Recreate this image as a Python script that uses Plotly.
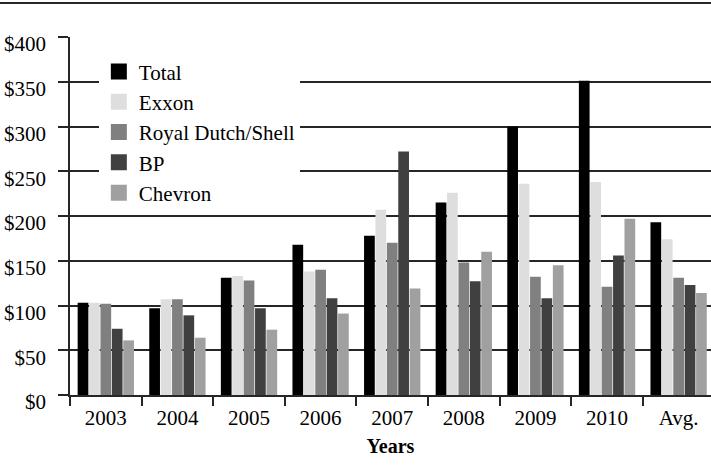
import plotly.graph_objects as go

# Annual figures by company, in dollars
years = ["2003", "2004", "2005", "2006", "2007", "2008", "2009", "2010", "Avg."]
total = [103, 97, 131, 168, 178, 215, 300, 351, 193]
exxon = [103, 107, 133, 138, 207, 226, 236, 238, 174]
shell = [102, 107, 128, 140, 170, 148, 132, 121, 131]
bp = [74, 89, 97, 108, 272, 127, 108, 156, 123]
chevron = [61, 64, 73, 91, 119, 160, 145, 197, 114]

y_ticks = [0, 50, 100, 150, 200, 250, 300, 350, 400]
y_tick_text = ["$" + str(v) for v in y_ticks]

series = [
    ("Total", total, "#000000"),
    ("Exxon", exxon, "#dedede"),
    ("Royal Dutch/Shell", shell, "#808080"),
    ("BP", bp, "#404040"),
    ("Chevron", chevron, "#a0a0a0"),
]

FONT = "Liberation Serif"
LINE = "#262626"

fig = go.Figure()
for name, vals, color in series:
    fig.add_trace(go.Bar(x=years, y=vals, name=name, marker_color=color,
                         marker_line_width=0, showlegend=False))
# Square swatches for the legend
for name, vals, color in series:
    fig.add_trace(go.Scatter(x=[None], y=[None], mode="markers", name=name,
                             marker=dict(symbol="square", size=16, color=color)))

fig.update_layout(
    width=711, height=467,
    margin=dict(l=70, r=0, t=37, b=72),
    paper_bgcolor="white", plot_bgcolor="white",
    barmode="group", bargap=0.204, bargroupgap=0.06,
    font=dict(family=FONT, color="#000000", size=21),
    legend=dict(x=0.045, y=0.96, xanchor="left", yanchor="top",
                bgcolor="white", borderwidth=0,
                font=dict(family=FONT, size=21, color="#000000"),
                tracegroupgap=0),
    xaxis=dict(
        type="category", range=[-0.5, 8.452],
        tickson="boundaries", ticks="outside", ticklen=9, tickwidth=1.5,
        tickcolor=LINE, showline=True, linecolor=LINE, linewidth=1.5,
        showgrid=False, tickfont=dict(family=FONT, size=21),
        ticklabelstandoff=3,
        title=dict(text="<b>Years</b>", font=dict(family=FONT, size=20), standoff=10),
    ),
    yaxis=dict(
        range=[0, 400], tickvals=y_ticks, ticktext=y_tick_text,
        ticks="outside", ticklen=10, tickwidth=1.5, tickcolor=LINE,
        showgrid=True, gridcolor=LINE, gridwidth=1.5,
        showline=True, linecolor=LINE, linewidth=1.5,
        zeroline=False, tickfont=dict(family=FONT, size=21),
        ticklabelshift=7, ticklabelstandoff=8,
    ),
    shapes=[dict(type="line", xref="paper", yref="paper",
                 x0=-70 / 641, x1=1, y0=1 + 34 / 358, y1=1 + 34 / 358,
                 line=dict(color=LINE, width=2))],
)

fig.write_html("out.html")
